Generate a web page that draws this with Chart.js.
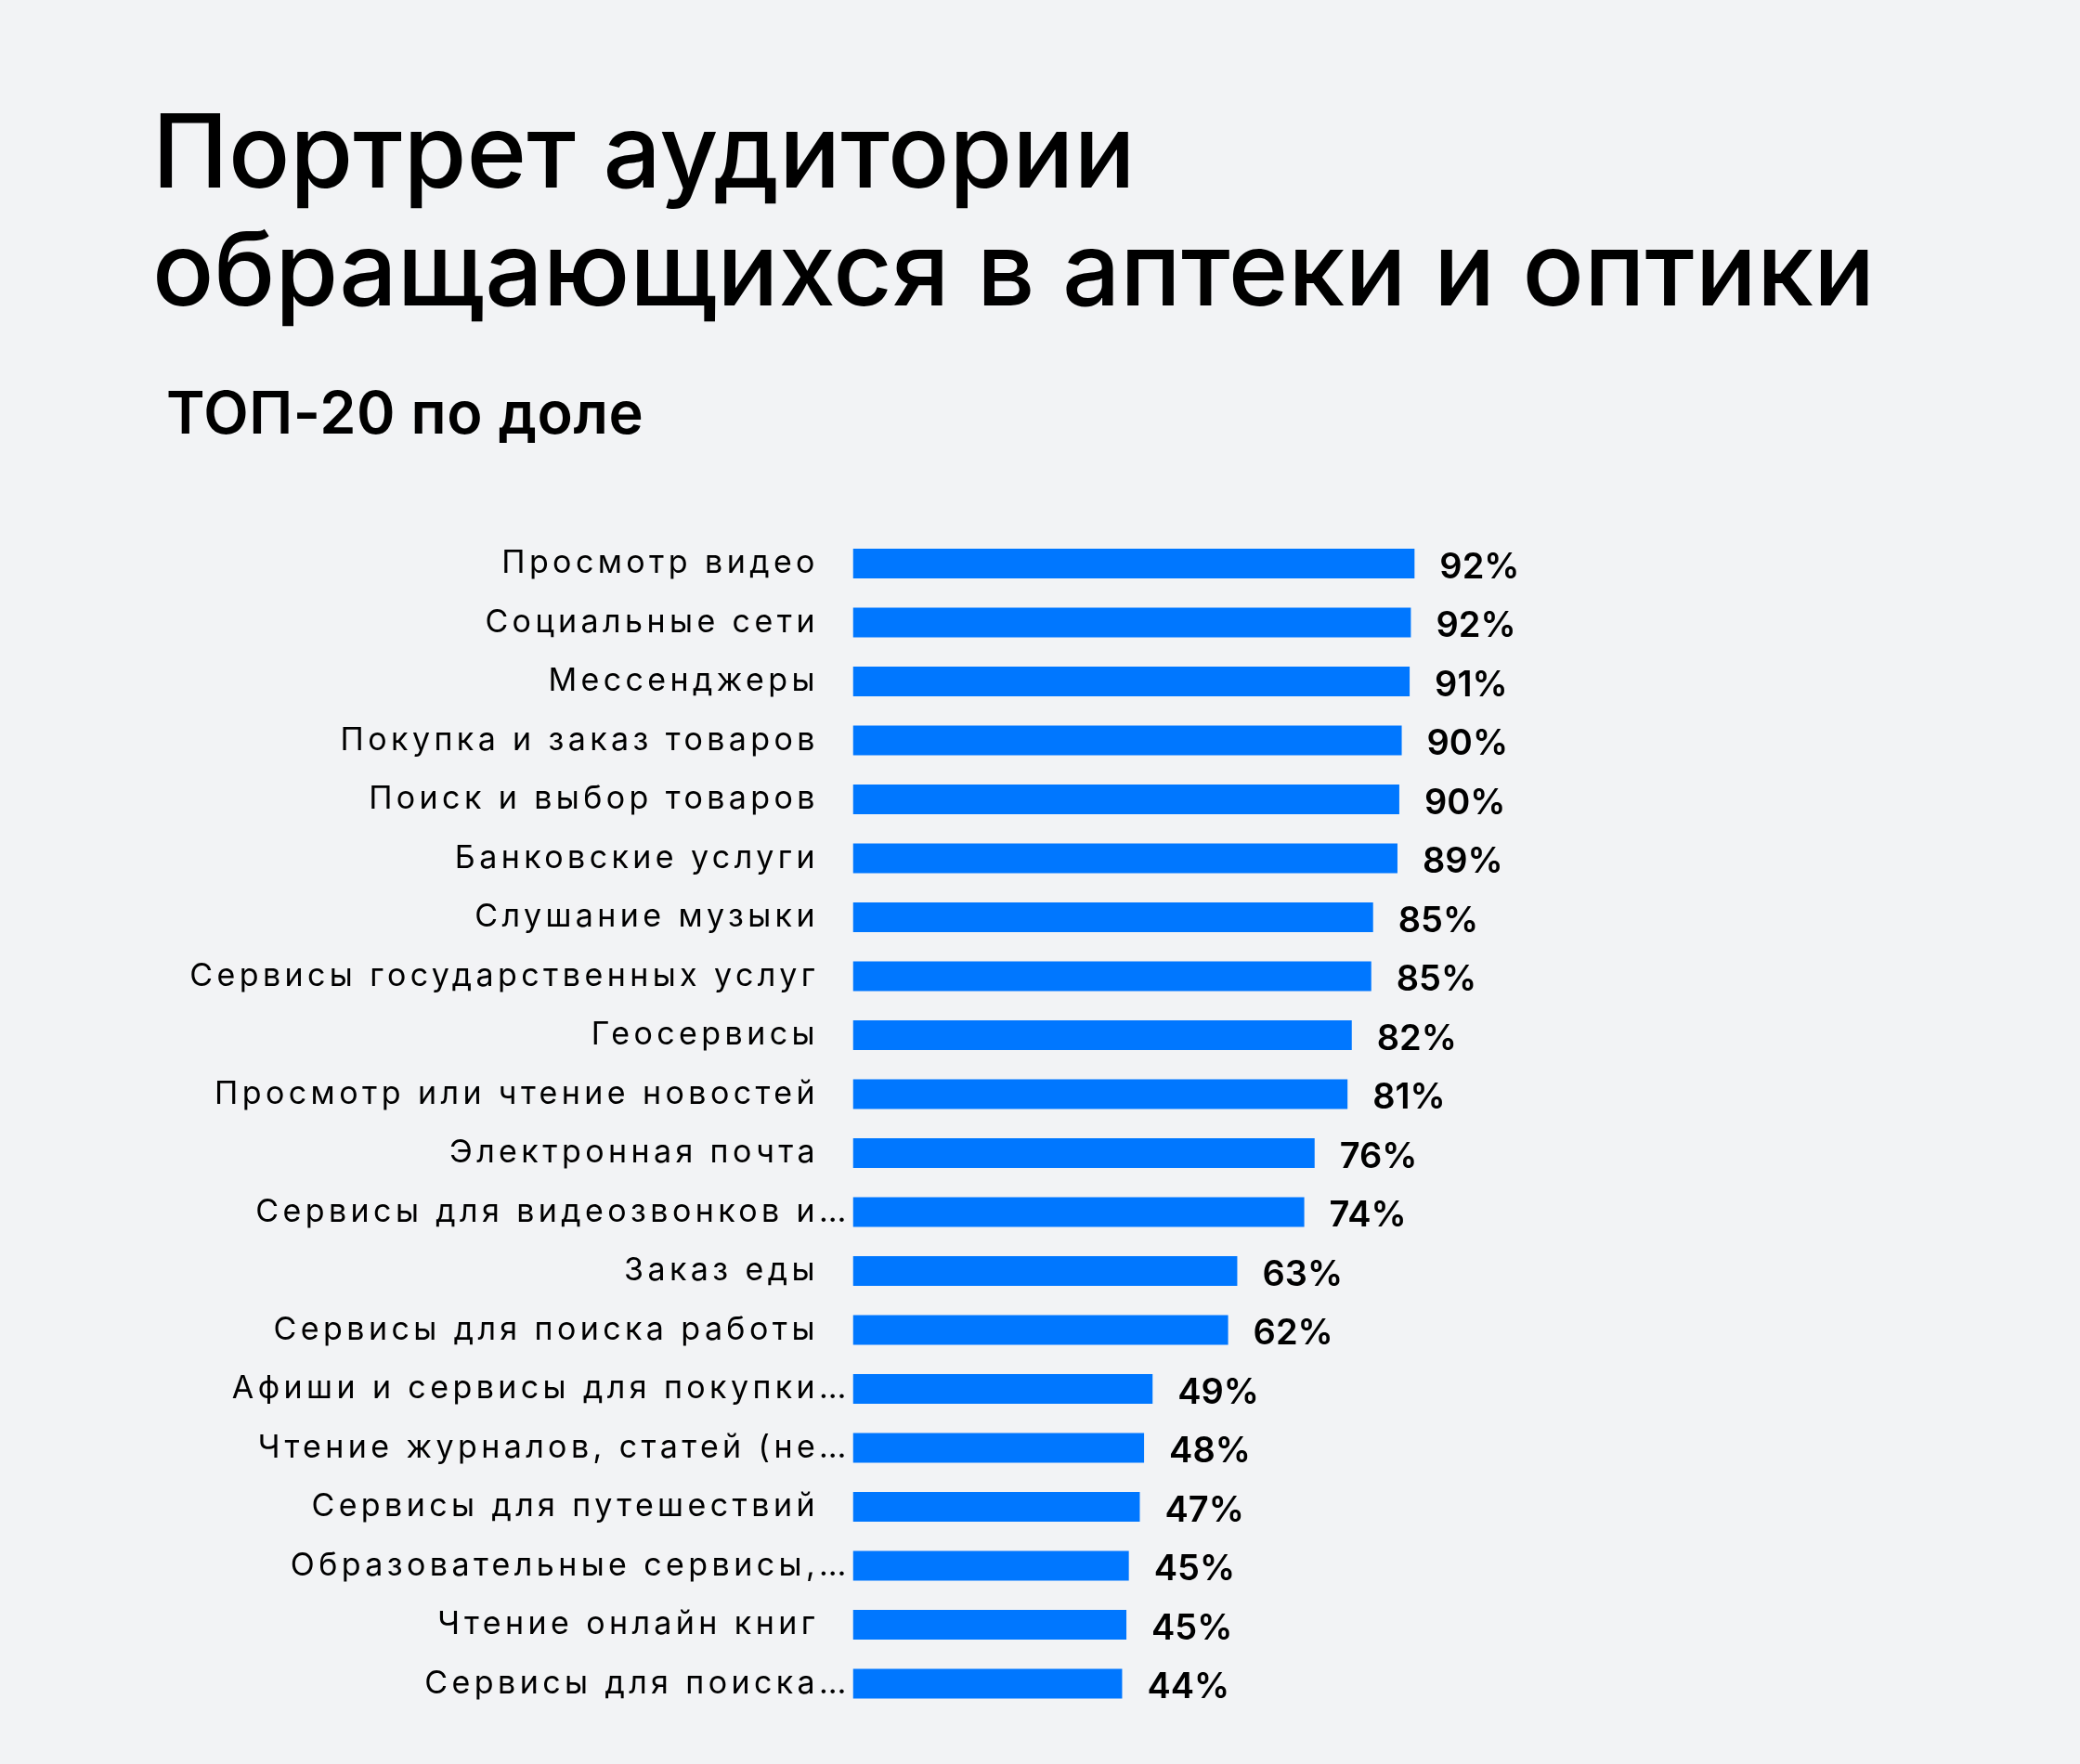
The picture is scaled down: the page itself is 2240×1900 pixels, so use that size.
<!DOCTYPE html>
<html lang="ru">
<head>
<meta charset="utf-8">
<title>Портрет аудитории</title>
<script src="https://cdn.jsdelivr.net/npm/chart.js@4"></script>
<style>
  html, body { margin: 0; padding: 0; background: #f2f3f5; }
  #page { position: relative; width: 2240px; height: 1900px; overflow: hidden; }
  h1 {
    position: absolute; left: 164px; top: 99px; margin: 0;
    font: 500 110px/127px Inter, sans-serif; color: #000;
    letter-spacing: 0;
  }
  h2 {
    position: absolute; left: 179px; top: 413px; margin: 0;
    font: 600 63px/62px Inter, sans-serif; color: #000;
    letter-spacing: 0.6px;
  }
  #chart { position: absolute; left: 0; top: 0; }
</style>
</head>
<body>
<div id="page">
  <h1>Портрет аудитории<br>обращающихся в аптеки и оптики</h1>
  <h2>ТОП-20 по доле</h2>
  <canvas id="chart" width="2240" height="1900"></canvas>
</div>
<script>
const categories = [
  'Просмотр видео',
  'Социальные сети',
  'Мессенджеры',
  'Покупка и заказ товаров',
  'Поиск и выбор товаров',
  'Банковские услуги',
  'Слушание музыки',
  'Сервисы государственных услуг',
  'Геосервисы',
  'Просмотр или чтение новостей',
  'Электронная почта',
  'Сервисы для видеозвонков и…',
  'Заказ еды',
  'Сервисы для поиска работы',
  'Афиши и сервисы для покупки…',
  'Чтение журналов, статей (не…',
  'Сервисы для путешествий',
  'Образовательные сервисы,…',
  'Чтение онлайн книг',
  'Сервисы для поиска…'
];

// share of audience, %
const shares = [92.2, 91.6, 91.4, 90.1, 89.7, 89.4, 85.4, 85.1, 81.9, 81.2,
                75.8, 74.1, 63.1, 61.6, 49.2, 47.8, 47.1, 45.3, 44.9, 44.2];

const BLUE = '#0077ff';

// wide category labels + truncated ones sit closer to the bars
const labelTweaks = {
  id: 'labelTweaks',
  beforeDraw(chart) {
    chart.ctx.letterSpacing = '4.4px';
    const items = chart.scales.y.getLabelItems();
    for (const item of items) {
      if (!item._shifted && String(item.label).endsWith('…')) {
        item.options.translation[0] += 34;
        item._shifted = true;
      }
    }
  }
};

// value labels at bar ends
const valueLabels = {
  id: 'valueLabels',
  afterDatasetsDraw(chart) {
    const ctx = chart.ctx;
    const meta = chart.getDatasetMeta(0);
    ctx.save();
    ctx.letterSpacing = '0px';
    ctx.font = '600 38px Inter, sans-serif';
    ctx.fillStyle = '#000';
    ctx.textAlign = 'left';
    ctx.textBaseline = 'alphabetic';
    meta.data.forEach((bar, i) => {
      ctx.fillText(Math.round(shares[i]) + '%', bar.x + 27, bar.y + 15.5);
    });
    ctx.restore();
  }
};

new Chart(document.getElementById('chart'), {
  type: 'bar',
  data: {
    labels: categories,
    datasets: [{
      data: shares,
      backgroundColor: BLUE,
      borderWidth: 0,
      categoryPercentage: 1.0,
      barPercentage: 0.504
    }]
  },
  options: {
    indexAxis: 'y',
    responsive: false,
    animation: false,
    devicePixelRatio: 1,
    layout: {
      padding: { top: 575.25, bottom: 54.75, left: 0, right: 665.5 }
    },
    plugins: {
      legend: { display: false },
      tooltip: { enabled: false }
    },
    scales: {
      x: {
        display: false,
        min: 0,
        max: 100
      },
      y: {
        grid: { display: false },
        border: { display: false },
        ticks: {
          color: '#000',
          padding: 28.6,
          font: { family: 'Inter, sans-serif', size: 34, weight: 400 }
        },
        afterFit(scale) {
          scale.width = 918.5;
        }
      }
    }
  },
  plugins: [labelTweaks, valueLabels]
});
</script>
</body>
</html>
